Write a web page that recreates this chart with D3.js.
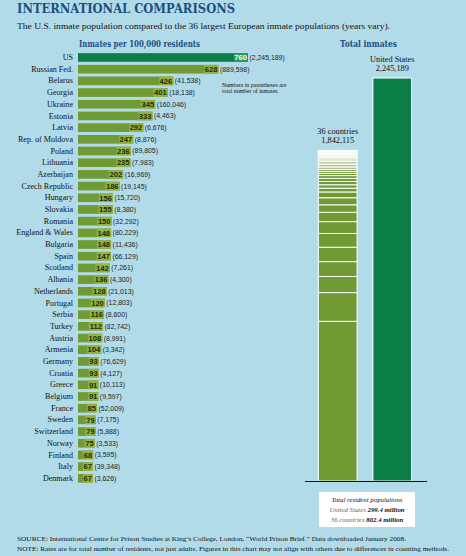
<!DOCTYPE html>
<html><head><meta charset="utf-8">
<script src="https://cdn.jsdelivr.net/npm/d3@7"></script>
<style>
html,body{margin:0;padding:0;background:#b2dbea;}
svg{display:block;}
</style></head>
<body>
<svg id="chart" width="466" height="556"></svg>
<script>
const countries = ["US","Russian Fed.","Belarus","Georgia","Ukraine","Estonia","Latvia","Rep. of Moldova","Poland","Lithuania","Azerbaijan","Czech Republic","Hungary","Slovakia","Romania","England & Wales","Bulgaria","Spain","Scotland","Albania","Netherlands","Portugal","Serbia","Turkey","Austria","Armenia","Germany","Croatia","Greece","Belgium","France","Sweden","Switzerland","Norway","Finland","Italy","Denmark"];
const rates = [760,628,426,401,345,333,292,247,236,235,202,186,156,155,150,148,148,147,142,136,128,120,116,112,108,104,93,93,91,91,85,79,79,75,68,67,67];
const totals = [2245189,889598,41538,18138,160046,4463,6676,8876,89805,7983,16969,19145,15720,8380,32292,80229,11436,66129,7261,4300,21013,12803,8600,82742,8991,3342,76629,4127,10113,9597,52009,7175,5888,3533,3595,39348,3626];
const groupLabels = ["36 countries","United States"];
const groupTotals = [1842115, 2245189];
const residentLabels = ["United States","36 countries"];
const residentValues = ["299.4 million","802.4 million"];

const BG="#b2dbea", OLIVE="#6f9a34", OLIVE_HI="#93b23e", GREEN="#0b7d46", GREEN_HI="#2b9a5e", BLUE="#1b4f82";
const serif="'Liberation Serif','DejaVu Serif',serif";
const slab="'DejaVu Serif',serif";
const sans="'Liberation Sans','DejaVu Sans',sans-serif";

const svg=d3.select("#chart");
svg.append("rect").attr("width",466).attr("height",556).attr("fill",BG);

// Title & subtitle
svg.append("text").attr("x",17).attr("y",13).attr("font-family",slab).attr("font-weight","bold")
  .attr("font-size",13).attr("fill",BLUE).attr("textLength",218).attr("lengthAdjust","spacingAndGlyphs")
  .text("INTERNATIONAL COMPARISONS");
svg.append("text").attr("x",17).attr("y",28.5).attr("font-family",serif).attr("font-size",8.4).attr("fill","#111")
  .attr("textLength",373).attr("lengthAdjust","spacingAndGlyphs")
  .text("The U.S. inmate population compared to the 36 largest European inmate populations (years vary).");

// Headers
svg.append("text").attr("x",79).attr("y",47).attr("font-family",slab).attr("font-weight","bold").attr("font-size",8.5)
  .attr("fill",BLUE).attr("textLength",121).attr("lengthAdjust","spacingAndGlyphs").text("Inmates per 100,000 residents");
svg.append("text").attr("x",340).attr("y",47).attr("font-family",slab).attr("font-weight","bold").attr("font-size",8.5)
  .attr("fill",BLUE).attr("textLength",57).attr("lengthAdjust","spacingAndGlyphs").text("Total inmates");

// Left bar chart
const x=d3.scaleLinear().domain([0,760]).range([78,248]);
const y=d3.scaleBand().domain(countries).range([51.65,484.15]).paddingInner(0.26).paddingOuter(0.13);

const yAxis=d3.axisLeft(y).tickSize(0).tickPadding(4);
const ax=svg.append("g").attr("transform","translate(77,0)").call(yAxis);
ax.select(".domain").remove();
ax.selectAll("text").attr("font-family",serif).attr("font-size",8.1).attr("fill","#111");

const rows=svg.append("g").selectAll("g").data(countries).join("g");
rows.append("rect").attr("x",x(0)).attr("y",d=>y(d)).attr("height",y.bandwidth())
  .attr("width",(d,i)=>x(rates[i])-x(0)).attr("fill",(d,i)=>i===0?GREEN:OLIVE);
const numW=(v)=>String(v).length*4.1+2;
rows.append("rect").attr("x",(d,i)=>x(rates[i])-numW(rates[i])).attr("y",d=>y(d))
  .attr("height",y.bandwidth()).attr("width",(d,i)=>numW(rates[i]))
  .attr("fill",(d,i)=>i===0?GREEN_HI:OLIVE_HI);
rows.append("text").attr("x",(d,i)=>x(rates[i])-1).attr("y",d=>y(d)+y.bandwidth()/2)
  .attr("dy","0.36em").attr("text-anchor","end").attr("font-family",sans).attr("font-weight","bold")
  .attr("font-size",7.6).attr("fill",(d,i)=>i===0?"#fff":"#1d2a10").text((d,i)=>rates[i]);
const fmt=d3.format(",");
rows.append("text").attr("x",(d,i)=>x(rates[i])+1.5).attr("y",d=>y(d)+y.bandwidth()/2)
  .attr("dy","0.36em").attr("font-family",sans).attr("font-size",6.9).attr("fill","#222")
  .text((d,i)=>"("+fmt(totals[i])+")");

// Note
svg.append("text").attr("x",222).attr("y",86.5).attr("font-family",serif).attr("font-size",5.8).attr("fill","#111")
  .text("Numbers in parentheses are");
svg.append("text").attr("x",222).attr("y",93).attr("font-family",serif).attr("font-size",5.8).attr("fill","#111")
  .text("total number of inmates.");

// Right chart
const xb=d3.scaleBand().domain(groupLabels).range([302,428]).paddingInner(0.29).paddingOuter(0.3);
const yb=d3.scaleLinear().domain([0,2245189]).range([481,78]);

// stacked 36 countries, largest at bottom
const others=totals.slice(1).slice().sort((a,b)=>b-a);
const cum=d3.cumsum(others);
const g36=svg.append("g");
g36.selectAll("rect").data(others).join("rect")
  .attr("x",xb(groupLabels[0])).attr("width",xb.bandwidth())
  .attr("y",(d,i)=>yb(cum[i])).attr("height",(d,i)=>yb(cum[i]-d)-yb(cum[i]))
  .attr("fill",OLIVE).attr("stroke","#fff").attr("stroke-width",1);
svg.append("rect").attr("x",xb(groupLabels[1])).attr("width",xb.bandwidth())
  .attr("y",yb(groupTotals[1])).attr("height",yb(0)-yb(groupTotals[1]))
  .attr("fill",GREEN).attr("stroke","#fff").attr("stroke-width",1);

groupLabels.forEach((lab,i)=>{
  const cx=xb(lab)+xb.bandwidth()/2;
  const top=yb(groupTotals[i]);
  svg.append("text").attr("x",cx).attr("y",top-16).attr("text-anchor","middle").attr("font-family",serif)
    .attr("font-size",8.3).attr("fill","#111").text(lab);
  svg.append("text").attr("x",cx).attr("y",top-7).attr("text-anchor","middle").attr("font-family",serif)
    .attr("font-size",8.3).attr("fill","#111").text(fmt(groupTotals[i]));
});
svg.append("line").attr("x1",305).attr("x2",427).attr("y1",481.5).attr("y2",481.5).attr("stroke","#111").attr("stroke-width",1);

// resident box
svg.append("rect").attr("x",319).attr("y",492).attr("width",96).attr("height",35).attr("fill","#fff");
svg.append("text").attr("x",367).attr("y",502).attr("text-anchor","middle").attr("font-family",serif)
  .attr("font-style","italic").attr("font-size",6.8).attr("fill","#111").text("Total resident populations");
residentLabels.forEach((lab,i)=>{
  const t=svg.append("text").attr("x",367).attr("y",512+i*9.5).attr("text-anchor","middle")
    .attr("font-family",serif).attr("font-style","italic").attr("font-size",6.8);
  t.append("tspan").attr("fill","#666").text(lab+" ");
  t.append("tspan").attr("fill","#111").attr("font-weight","bold").text(residentValues[i]);
});

// footer
svg.append("text").attr("x",17).attr("y",541).attr("font-family",serif).attr("font-size",6.3).attr("fill","#111")
  .attr("textLength",389).attr("lengthAdjust","spacingAndGlyphs")
  .text("SOURCE: International Centre for Prison Studies at King\u2019s College, London, \u201cWorld Prison Brief.\u201d Data downloaded January 2008.");
svg.append("text").attr("x",17).attr("y",550.5).attr("font-family",serif).attr("font-size",6.3).attr("fill","#111")
  .attr("textLength",432).attr("lengthAdjust","spacingAndGlyphs")
  .text("NOTE: Rates are for total number of residents, not just adults. Figures in this chart may not align with others due to differences in counting methods.");
</script>
</body></html>
